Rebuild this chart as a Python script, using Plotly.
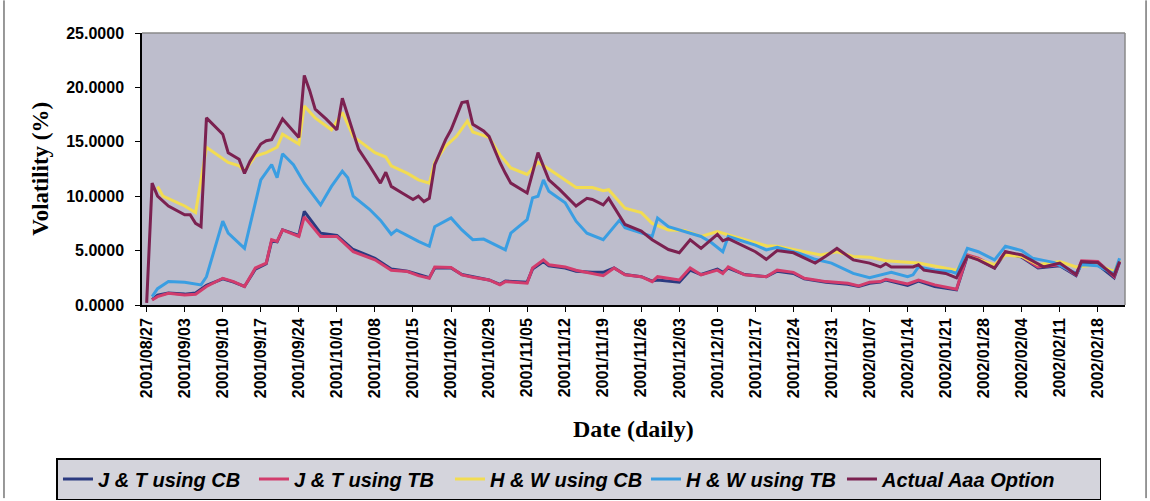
import pandas as pd
import plotly.graph_objects as go

# Trading-day data. Day offsets are counted from the first date.
start_date = "2001-08-27"

jt_cb_day = [1, 2, 4, 7, 9, 11, 14, 16, 18, 20, 22, 23, 24, 25, 28, 29, 32, 35, 38, 42, 45, 48, 50, 52, 53, 56, 58, 60, 63, 65, 66, 70, 71, 73, 74, 77, 79, 82, 84, 86, 88, 91, 93, 94, 98, 100, 102, 105, 106, 107, 110, 114, 116, 119, 121, 125, 129, 131, 133, 135, 136, 140, 142, 145, 149, 151, 153, 156, 158, 161, 164, 168, 171, 172, 175, 178, 179]
jt_cb_vol = [0.5, 0.9, 1.1, 1.0, 1.1, 1.8, 2.4, 2.1, 1.7, 3.3, 3.8, 5.9, 5.8, 6.9, 6.4, 8.6, 6.6, 6.4, 5.1, 4.3, 3.3, 3.1, 2.8, 2.5, 3.4, 3.4, 2.8, 2.6, 2.3, 1.9, 2.2, 2.1, 3.3, 4.0, 3.6, 3.4, 3.1, 3.0, 3.0, 3.4, 2.8, 2.6, 2.2, 2.3, 2.1, 3.2, 2.8, 3.3, 3.0, 3.4, 2.8, 2.6, 3.1, 2.9, 2.4, 2.1, 1.9, 1.7, 2.0, 2.1, 2.3, 1.8, 2.2, 1.7, 1.4, 4.5, 4.2, 3.4, 4.8, 4.4, 3.4, 3.6, 2.7, 3.8, 3.7, 2.5, 3.9]

jt_tb_day = [1, 2, 4, 7, 9, 11, 14, 16, 18, 20, 22, 23, 24, 25, 28, 29, 32, 35, 38, 42, 45, 48, 50, 52, 53, 56, 58, 60, 63, 65, 66, 70, 71, 73, 74, 77, 79, 82, 84, 86, 88, 91, 93, 94, 98, 100, 102, 105, 106, 107, 110, 114, 116, 119, 121, 125, 129, 131, 133, 135, 136, 140, 142, 145, 149, 151, 153, 156, 158, 161, 164, 168, 171, 172, 175, 178, 179]
jt_tb_vol = [0.46, 0.77, 1.08, 0.92, 0.99, 1.7, 2.46, 2.15, 1.7, 3.4, 3.85, 6.0, 5.85, 6.9, 6.3, 8.1, 6.3, 6.3, 4.9, 4.15, 3.2, 3.07, 2.7, 2.46, 3.5, 3.45, 2.77, 2.55, 2.3, 1.85, 2.15, 2.0, 3.4, 4.15, 3.7, 3.5, 3.2, 2.9, 2.7, 3.4, 2.77, 2.6, 2.15, 2.6, 2.3, 3.4, 2.77, 3.2, 2.9, 3.5, 2.77, 2.6, 3.2, 3.0, 2.46, 2.15, 2.0, 1.75, 2.1, 2.15, 2.37, 1.94, 2.3, 1.85, 1.45, 4.6, 4.3, 3.5, 4.9, 4.46, 3.5, 3.7, 2.77, 4.06, 4.0, 2.6, 4.0]

hw_cb_day = [2, 3, 7, 9, 11, 13, 15, 17, 18, 20, 22, 24, 25, 28, 29, 31, 34, 36, 38, 42, 44, 45, 48, 50, 52, 53, 55, 57, 59, 60, 63, 65, 67, 70, 72, 74, 76, 79, 82, 84, 85, 88, 91, 93, 96, 99, 102, 105, 108, 112, 114, 116, 121, 124, 127, 130, 133, 136, 142, 145, 149, 151, 156, 158, 161, 164, 168, 171, 175, 178, 179]
hw_cb_vol = [10.9, 10.0, 9.1, 8.5, 14.5, 13.8, 13.1, 12.8, 12.3, 13.7, 14.0, 14.5, 15.7, 14.8, 18.3, 17.2, 16.1, 17.7, 15.5, 14.0, 13.6, 12.8, 12.1, 11.5, 11.2, 13.1, 14.6, 15.5, 16.9, 15.9, 15.4, 13.8, 12.6, 12.0, 13.1, 12.5, 11.8, 10.8, 10.8, 10.5, 10.6, 8.9, 8.5, 7.5, 6.9, 6.85, 6.3, 6.76, 6.3, 5.75, 5.44, 5.4, 4.9, 4.6, 4.9, 4.46, 4.4, 4.06, 3.85, 3.6, 3.2, 4.5, 3.7, 4.6, 4.46, 3.7, 4.0, 3.5, 3.7, 3.07, 4.15]

hw_tb_day = [1, 2, 4, 7, 10, 11, 14, 15, 18, 21, 23, 24, 25, 27, 29, 32, 34, 36, 37, 38, 41, 43, 45, 46, 50, 52, 53, 56, 58, 60, 62, 66, 67, 70, 71, 72, 73, 74, 77, 79, 81, 84, 87, 88, 93, 94, 96, 99, 102, 104, 106, 107, 109, 112, 114, 116, 120, 123, 126, 130, 133, 135, 137, 140, 141, 142, 145, 148, 149, 151, 153, 156, 158, 161, 163, 165, 167, 171, 172, 175, 178, 179]
hw_tb_vol = [0.77, 1.5, 2.15, 2.1, 1.85, 2.6, 7.7, 6.6, 5.2, 11.5, 12.9, 11.7, 13.9, 12.9, 11.2, 9.2, 10.9, 12.3, 11.7, 10.0, 8.8, 7.8, 6.5, 6.9, 5.85, 5.4, 7.2, 8.0, 6.9, 6.0, 6.06, 5.07, 6.6, 7.85, 9.84, 10.0, 11.5, 10.45, 9.4, 7.7, 6.6, 6.0, 7.8, 7.1, 6.3, 8.0, 7.2, 6.76, 6.3, 5.7, 4.9, 6.3, 6.0, 5.5, 5.07, 5.3, 4.77, 4.2, 3.85, 2.9, 2.5, 2.77, 3.0, 2.6, 2.77, 3.5, 3.2, 3.07, 2.9, 5.2, 4.9, 4.15, 5.4, 5.0, 4.3, 4.1, 3.9, 2.9, 3.7, 3.6, 2.86, 4.3]

actual_day = [0, 1, 2, 4, 7, 8, 9, 10, 11, 14, 15, 17, 18, 19, 21, 22, 23, 25, 28, 29, 30, 31, 33, 35, 36, 37, 39, 41, 43, 44, 45, 47, 49, 50, 51, 52, 53, 55, 56, 58, 59, 60, 62, 63, 65, 66, 67, 70, 72, 74, 76, 79, 81, 82, 84, 85, 88, 91, 93, 96, 98, 100, 102, 105, 106, 107, 110, 112, 114, 116, 119, 123, 125, 127, 130, 133, 135, 136, 137, 141, 142, 143, 147, 149, 151, 153, 156, 158, 161, 165, 168, 171, 172, 175, 178, 179]
actual_vol = [0.2, 11.2, 10.0, 9.1, 8.3, 8.3, 7.5, 7.2, 17.2, 15.7, 14.0, 13.4, 12.1, 13.2, 14.8, 15.1, 15.2, 17.1, 15.4, 21.1, 19.7, 18.0, 17.1, 16.1, 19.0, 17.4, 14.3, 12.8, 11.2, 12.2, 10.9, 10.3, 9.7, 10.0, 9.5, 9.8, 12.9, 15.2, 16.1, 18.6, 18.7, 16.6, 16.0, 15.5, 13.1, 12.1, 11.2, 10.3, 14.0, 11.5, 10.6, 9.1, 9.8, 9.7, 9.2, 9.8, 7.4, 6.8, 6.0, 5.1, 4.8, 6.0, 5.2, 6.5, 5.9, 6.1, 5.4, 4.9, 4.2, 5.0, 4.8, 3.85, 4.5, 5.2, 4.15, 3.85, 3.5, 3.8, 3.5, 3.5, 3.7, 3.2, 2.9, 2.5, 4.5, 4.15, 3.4, 4.9, 4.6, 3.5, 3.85, 2.8, 4.0, 3.9, 2.7, 4.0]

series_names = ["J & T using CB", "J & T using TB", "H & W using CB", "H & W using TB", "Actual Aaa Option"]
series_colors = ["#2b3a80", "#d23c6c", "#f2dc52", "#3a9ee2", "#7b2150"]

y_ticks = [0, 5, 10, 15, 20, 25]

start = pd.Timestamp(start_date)


def to_dates(days):
    return start + pd.to_timedelta(days, unit="D")


series = [
    (jt_cb_day, jt_cb_vol),
    (jt_tb_day, jt_tb_vol),
    (hw_cb_day, hw_cb_vol),
    (hw_tb_day, hw_tb_vol),
    (actual_day, actual_vol),
]
legend_widths = [151, 151, 151, 151, 213]

fig = go.Figure()
for (days, vals), name, color, lw in zip(series, series_names, series_colors, legend_widths):
    fig.add_trace(go.Scatter(
        x=to_dates(days), y=vals, mode="lines", name=name,
        line=dict(color=color, width=3),
        legendwidth=lw,
    ))

x_lo = start - pd.Timedelta(hours=20.6)
x_hi = start + pd.Timedelta(days=180)

fig.update_layout(
    width=1150, height=501,
    margin=dict(l=142, r=25, t=33, b=196, autoexpand=False),
    paper_bgcolor="white",
    plot_bgcolor="#bdbdcc",
    showlegend=True,
    legend=dict(
        orientation="h",
        x=-0.087, xanchor="left",
        y=-0.5625, yanchor="top",
        bgcolor="#d4d4dc",
        bordercolor="black", borderwidth=1.5,
        font=dict(family="Liberation Sans", size=20, color="black",
                  weight="bold", style="italic"),
        itemwidth=30,
    ),
    xaxis=dict(
        type="date",
        range=[x_lo, x_hi],
        tick0=start_date, dtick=7 * 86400000,
        tickformat="%Y/%m/%d",
        tickangle=-90,
        ticks="outside", ticklen=5, tickcolor="black",
        showgrid=False, zeroline=False, automargin=False,
        showline=True, linecolor="black", linewidth=1.5,
        tickfont=dict(family="Liberation Sans", size=16, color="black", weight="bold"),
    ),
    yaxis=dict(
        range=[0, 25],
        tickvals=y_ticks,
        tickformat=".4f",
        ticks="outside", ticklen=5, tickcolor="black",
        ticklabelstandoff=8,
        showgrid=False, zeroline=False, automargin=False,
        showline=True, linecolor="black", linewidth=1.5,
        tickfont=dict(family="Liberation Sans", size=16, color="black", weight="bold"),
    ),
    font=dict(family="Liberation Sans"),
)

# axis titles
fig.add_annotation(
    text="Date (daily)", xref="paper", yref="paper", x=0.5, y=-0.40,
    xanchor="center", yanchor="top", showarrow=False,
    font=dict(family="Liberation Serif", size=24, color="black", weight="bold"),
)
fig.add_annotation(
    text="Volatility (%)", xref="paper", yref="paper", x=-0.104, y=0.5,
    xanchor="center", yanchor="middle", textangle=-90, showarrow=False,
    font=dict(family="Liberation Serif", size=23, color="black", weight="bold"),
)

# plot-area border (top/right) and chart-area side borders
fig.add_shape(type="line", xref="paper", yref="paper", x0=0, x1=1, y0=1, y1=1,
              line=dict(color="#8a8a8a", width=1.5))
fig.add_shape(type="line", xref="paper", yref="paper", x0=1, x1=1, y0=0, y1=1,
              line=dict(color="#8a8a8a", width=1.5))
fig.add_shape(type="line", xref="paper", yref="paper", x0=-0.1404, x1=-0.1404, y0=-0.71, y1=1.12,
              line=dict(color="#333333", width=1))
fig.add_shape(type="line", xref="paper", yref="paper", x0=1.0214, x1=1.0214, y0=-0.71, y1=1.12,
              line=dict(color="#333333", width=1))

fig.write_html("out.html", config={"displayModeBar": False},
               post_script="document.body.style.margin='0';")
